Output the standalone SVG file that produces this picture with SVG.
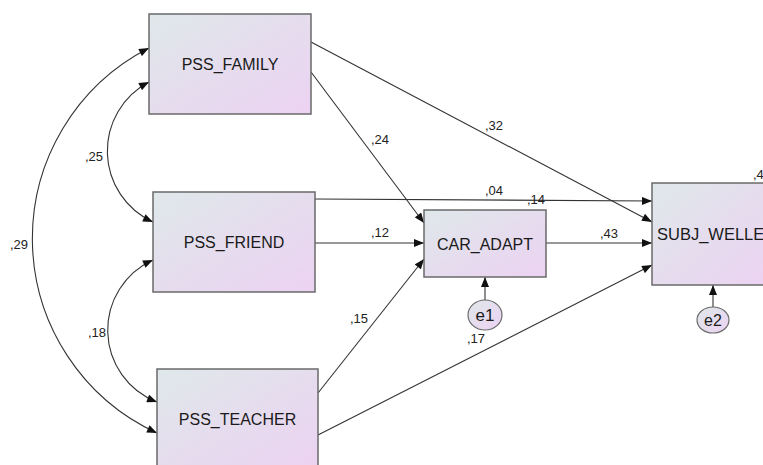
<svg xmlns="http://www.w3.org/2000/svg" width="763" height="465" viewBox="0 0 763 465">
<defs>
<linearGradient id="g" x1="0" y1="0" x2="1" y2="1">
<stop offset="0" stop-color="#dfe8ea"/>
<stop offset="1" stop-color="#ecd2f2"/>
</linearGradient>
<marker id="ah" viewBox="0 0 10 8" refX="10" refY="4" markerWidth="11" markerHeight="8" markerUnits="userSpaceOnUse" orient="auto-start-reverse">
<path d="M0,0 L10,4 L0,8 Z" fill="#111"/>
</marker>
<style>
.box{fill:url(#g);stroke:#6a6a6a;stroke-width:1.5}
.err{fill:url(#g);stroke:#6a6a6a;stroke-width:1.2}
.lbl{font-family:"Liberation Sans",Arial,sans-serif;font-size:16px;fill:#1a1a1a;text-anchor:middle}
.num{font-family:"Liberation Sans",Arial,sans-serif;font-size:13px;fill:#222}
.c{fill:none;stroke:#333;stroke-width:1.1}
</style>
</defs>
<rect width="763" height="465" fill="#fff"/>
<g id="connectors">
<path class="c" d="M149,48 A214,214 0 0,0 157,433" marker-start="url(#ah)" marker-end="url(#ah)"/>
<path class="c" d="M149,82 A78,78 0 0,0 153,222" marker-start="url(#ah)" marker-end="url(#ah)"/>
<path class="c" d="M153,260 A77,77 0 0,0 157,402" marker-start="url(#ah)" marker-end="url(#ah)"/>
<line class="c" x1="311" y1="72" x2="424" y2="223" marker-end="url(#ah)"/>
<line class="c" x1="311" y1="42" x2="652" y2="222" marker-end="url(#ah)"/>
<line class="c" x1="315" y1="199" x2="652" y2="201" marker-end="url(#ah)"/>
<line class="c" x1="315" y1="243" x2="424" y2="243" marker-end="url(#ah)"/>
<line class="c" x1="318" y1="393" x2="424" y2="259" marker-end="url(#ah)"/>
<line class="c" x1="318" y1="435" x2="652" y2="265" marker-end="url(#ah)"/>
<line class="c" x1="546" y1="243" x2="652" y2="243" marker-end="url(#ah)"/>
<line class="c" x1="485" y1="300" x2="485" y2="277" marker-end="url(#ah)"/>
<line class="c" x1="713" y1="307" x2="713" y2="285" marker-end="url(#ah)"/>
<text class="num" x="85" y="161">,25</text>
<text class="num" x="10" y="249">,29</text>
<text class="num" x="88" y="337">,18</text>
<text class="num" x="371" y="144">,24</text>
<text class="num" x="485" y="130">,32</text>
<text class="num" x="485" y="195">,04</text>
<text class="num" x="371" y="237">,12</text>
<text class="num" x="600" y="238">,43</text>
<text class="num" x="350" y="323">,15</text>
<text class="num" x="467" y="343">,17</text>
</g>
<g id="PSS_FAMILY">
<rect class="box" x="149" y="14" width="162" height="100"/>
<text class="lbl" x="230" y="70">PSS_FAMILY</text>
</g>
<g id="PSS_FRIEND">
<rect class="box" x="153" y="192" width="162" height="100"/>
<text class="lbl" x="234" y="248">PSS_FRIEND</text>
</g>
<g id="PSS_TEACHER">
<rect class="box" x="157" y="369" width="161" height="100"/>
<text class="lbl" x="237.5" y="425">PSS_TEACHER</text>
</g>
<g id="CAR_ADAPT">
<rect class="box" x="424" y="210" width="122" height="67"/>
<text class="lbl" x="485" y="250">CAR_ADAPT</text>
<text class="num" x="527" y="204">,14</text>
</g>
<g id="SUBJ_WELLBEING">
<rect class="box" x="652" y="183" width="120" height="102"/>
<text class="lbl" x="657" y="240" style="text-anchor:start;font-size:16.5px">SUBJ_WELLE</text>
<text class="num" x="753" y="179">,4</text>
</g>
<g id="e1">
<ellipse class="err" cx="485" cy="315" rx="17" ry="15"/>
<text class="lbl" x="485" y="321" style="font-size:17px">e1</text>
</g>
<g id="e2">
<ellipse class="err" cx="713" cy="320" rx="16" ry="13"/>
<text class="lbl" x="713" y="326">e2</text>
</g>
</svg>
